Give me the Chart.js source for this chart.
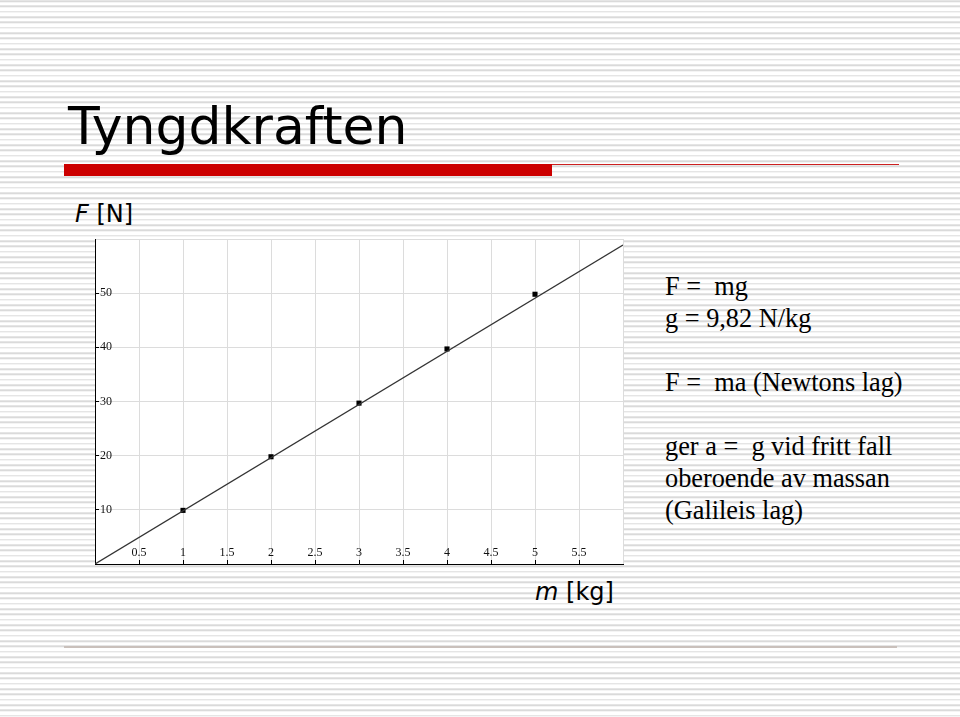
<!DOCTYPE html>
<html>
<head>
<meta charset="utf-8">
<script src="https://cdn.jsdelivr.net/npm/chart.js@4/dist/chart.umd.min.js"></script>
<style>
  html, body { margin:0; padding:0; width:960px; height:717px; overflow:hidden; }
  body {
    background-color:#ffffff;
    background-image: repeating-linear-gradient(to bottom, #dadada 0px, #dadada 1.6px, #ffffff 1.6px, #ffffff 5.333px);
    background-position: 0 0.3px;
    position:relative;
  }
  #c { position:absolute; left:0; top:0; }
  .t { position:absolute; white-space:pre; color:#000; margin:0; }
  #title { left:68px; top:100px; font:52px "DejaVu Sans"; line-height:52px; }
  #fn { left:75px; top:202px; font:24px "DejaVu Sans"; line-height:24px; }
  #mkg { left:535px; top:580px; font:24px "DejaVu Sans"; line-height:24px; }
  #side { left:665px; top:271px; font:26.3px "Liberation Serif"; line-height:32px; }
  #redbar { position:absolute; left:64px; top:164px; width:488px; height:12px; background:#cc0000; }
  #redline { position:absolute; left:552px; top:163.5px; width:347px; height:1.3px; background:#cc2020; }
  #bottomline { position:absolute; left:64px; top:646px; width:833px; height:2px; background:#c9c0bb; }
</style>
</head>
<body>
<div id="title" class="t">Tyngdkraften</div>
<div id="redbar"></div>
<div id="redline"></div>
<div id="fn" class="t"><i>F</i> [N]</div>
<div id="mkg" class="t"><i>m</i> [kg]</div>
<div id="side" class="t">F =  mg
g = 9,82 N/kg

F =  ma (Newtons lag)

ger a =  g vid fritt fall
oberoende av massan
(Galileis lag)</div>
<div id="bottomline"></div>
<canvas id="c" width="960" height="717"></canvas>
<script>
const massKg = [1, 2, 3, 4, 5];
const forceN = [9.9, 19.8, 29.7, 39.7, 49.8];
// Straight line F = mg drawn from origin to the right edge
const lineMass = [0, 6];
const lineForce = [0, 58.9];
// Axis ranges / ticks
const xMin = 0, xMax = 6, xStep = 0.5;
const yMin = 0, yMax = 60, yStep = 10;

const pointsData = massKg.map((m, i) => ({ x: m, y: forceN[i] }));
const lineData = lineMass.map((m, i) => ({ x: m, y: lineForce[i] }));

const whiteArea = {
  id: 'whiteArea',
  beforeDraw(chart) {
    const { ctx, chartArea: a } = chart;
    ctx.save();
    ctx.fillStyle = '#ffffff';
    ctx.fillRect(a.left, a.top, a.right - a.left, a.bottom - a.top);
    ctx.restore();
  }
};

const tickFont = { family: '"Liberation Serif", "DejaVu Serif", serif', size: 12 };

new Chart(document.getElementById('c'), {
  type: 'scatter',
  data: {
    datasets: [
      {
        type: 'line',
        data: lineData,
        borderColor: '#333333',
        borderWidth: 1.3,
        pointRadius: 0,
        fill: false,
        tension: 0
      },
      {
        type: 'scatter',
        data: pointsData,
        pointStyle: 'rect',
        pointRadius: 3.6,
        backgroundColor: '#000000',
        borderColor: '#000000',
        borderWidth: 0
      }
    ]
  },
  options: {
    responsive: false,
    devicePixelRatio: 1,
    animation: false,
    events: [],
    layout: { padding: { left: 95, top: 239, right: 337, bottom: 153 } },
    plugins: { legend: { display: false }, tooltip: { enabled: false } },
    scales: {
      x: {
        type: 'linear',
        position: 'bottom',
        min: xMin, max: xMax,
        afterFit(s) { s.height = 0; },
        ticks: {
          stepSize: xStep,
          mirror: true,
          padding: 4,
          color: '#111',
          font: tickFont,
          maxRotation: 0,
          autoSkip: false,
          callback: (v) => (v === xMin || v === xMax) ? '' : String(v)
        },
        grid: {
          color: '#dcdcdc',
          lineWidth: 1,
          drawTicks: true,
          tickLength: -4,
          tickWidth: 1,
          tickColor: (ctx) => (ctx.tick && (ctx.tick.value === xMin || ctx.tick.value === xMax)) ? 'rgba(0,0,0,0)' : '#000'
        },
        border: { display: true, color: '#000', width: 1 }
      },
      y: {
        type: 'linear',
        position: 'left',
        min: yMin, max: yMax,
        afterFit(s) { s.width = 0; },
        ticks: {
          stepSize: yStep,
          mirror: true,
          padding: 5,
          color: '#111',
          font: tickFont,
          callback: (v) => (v === yMin || v === yMax) ? '' : String(v)
        },
        grid: {
          color: '#dcdcdc',
          lineWidth: 1,
          drawTicks: true,
          tickLength: -4,
          tickWidth: 1,
          tickColor: (ctx) => (ctx.tick && (ctx.tick.value === yMin || ctx.tick.value === yMax)) ? 'rgba(0,0,0,0)' : '#000'
        },
        border: { display: true, color: '#000', width: 1 }
      }
    }
  },
  plugins: [whiteArea]
});
</script>
</body>
</html>
